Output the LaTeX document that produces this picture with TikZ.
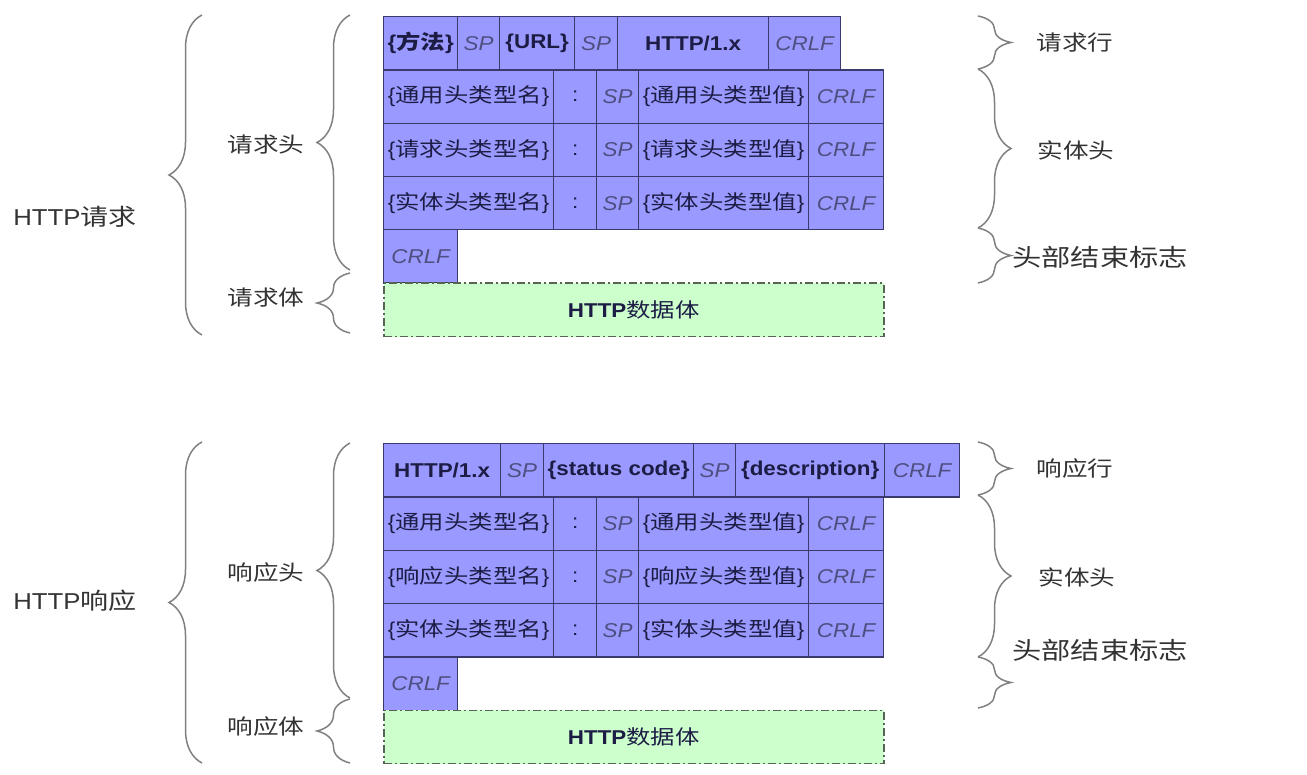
\documentclass[tikz,border=0pt]{standalone}
\usepackage{fontspec}
\setmainfont{Liberation Sans}[FakeStretch=1.12]
\newfontfamily\cjk{Noto Sans CJK SC}[FakeStretch=1.22]
\usetikzlibrary{decorations.pathreplacing, calc}

\definecolor{cellblue}{HTML}{9999FF}
\definecolor{celledge}{HTML}{3A3A6E}
\definecolor{bodygreen}{HTML}{CCFFCC}
\definecolor{bodyedge}{HTML}{556455}
\definecolor{keytext}{HTML}{1C1C44}
\definecolor{sptext}{HTML}{4E4E80}
\definecolor{notetext}{HTML}{333333}
\definecolor{bracegray}{HTML}{808080}

\newcommand\spx[1]{{\color{sptext}\itshape #1}}
\newcommand\keyx[1]{{\bfseries #1}}

\tikzset{
  cell/.style={draw=celledge, fill=cellblue, line width=1.3pt, anchor=north west,
    inner sep=0pt, minimum height=53.3pt, text=keytext,
    font=\fontsize{20}{24}\selectfont},
  databox/.style={draw=bodyedge, fill=bodygreen, line width=1.5pt,
    dash pattern=on 8pt off 3pt on 2pt off 3pt},
  note/.style={text=notetext, font=\fontsize{21}{25}\selectfont\cjk},
  bignote/.style={note, font=\fontsize{23}{27}\selectfont\cjk},
  widenote/.style={note, font=\fontsize{24}{28}\selectfont\cjk},
  curly/.style={draw=bracegray, line width=1.5pt, decorate,
    decoration={brace, amplitude=33pt}}
}

\begin{document}
\begin{tikzpicture}[x=1pt, y=-1pt]
\useasboundingbox (0,0) rectangle (1307,775);

% request message
\foreach \xa/\xb/\txt [count=\i] in {383/457/{\keyx{\{{\cjk 方法}\}}}, 457/499/{\spx{SP}},
    499/574/{\keyx{\{URL\}}}, 574/617/{\spx{SP}}, 617/768/{\keyx{HTTP/1.x}}, 768/840/{\spx{CRLF}}}
  \node[cell, minimum width={(\xb-\xa)*1pt}] (rql\i) at (\xa,16) {\txt};
\foreach \kind [count=\r] in {通用,请求,实体} {
  \foreach \xa/\xb/\txt [count=\i] in {383/553/{\{{\cjk \kind 头类型名}\}}, 553/596/{:},
      596/638/{\spx{SP}}, 638/808/{\{{\cjk \kind 头类型值}\}}, 808/883/{\spx{CRLF}}}
    \node[cell, minimum width={(\xb-\xa)*1pt}] (rqh\r-\i) at (\xa,{16+53.3*\r}) {\txt};
}
\node[cell, minimum width=74pt] (rqend) at (383,{16+53.3*4}) {\spx{CRLF}};
\node[cell, databox, minimum width=500pt] (rqbody) at (383,{16+53.3*5}) {\keyx{HTTP}{\cjk 数据体}};

% response message
\foreach \xa/\xb/\txt [count=\i] in {383/500/{\keyx{HTTP/1.x}}, 500/543/{\spx{SP}},
    543/693/{\keyx{\{status code\}}}, 693/735/{\spx{SP}}, 735/884/{\keyx{\{description\}}}, 884/959/{\spx{CRLF}}}
  \node[cell, minimum width={(\xb-\xa)*1pt}] (rsl\i) at (\xa,443) {\txt};
\foreach \kind [count=\r] in {通用,响应,实体} {
  \foreach \xa/\xb/\txt [count=\i] in {383/553/{\{{\cjk \kind 头类型名}\}}, 553/596/{:},
      596/638/{\spx{SP}}, 638/808/{\{{\cjk \kind 头类型值}\}}, 808/883/{\spx{CRLF}}}
    \node[cell, minimum width={(\xb-\xa)*1pt}] (rsh\r-\i) at (\xa,{443+53.3*\r}) {\txt};
}
\node[cell, minimum width=74pt] (rsend) at (383,{443+53.3*4}) {\spx{CRLF}};
\node[cell, databox, minimum width=500pt] (rsbody) at (383,{443+53.3*5}) {\keyx{HTTP}{\cjk 数据体}};

% labels
\node[bignote] (rq) at (75,217) {{\rmfamily HTTP}请求};
\node[note] (rqhead) at (266,145) {请求头};
\node[note] (rqdata) at (266,298) {请求体};
\node[note] (rqline) at (1075,43) {请求行};
\node[note] (rqent) at (1076,150) {实体头};
\node[widenote] (rqstop) at (1100,257) {头部结束标志};

\node[bignote] (rs) at (75,601) {{\rmfamily HTTP}响应};
\node[note] (rshead) at (266,573) {响应头};
\node[note] (rsdata) at (266,727) {响应体};
\node[note] (rsline) at (1075,469) {响应行};
\node[note] (rsent) at (1077,577) {实体头};
\node[widenote] (rsstop) at (1100,650) {头部结束标志};

% braces
\draw[curly] (202,335) -- (202,15);
\draw[curly] (350,270) -- (350,15);
\draw[curly] (350,333) -- (350,273);
\draw[curly] (978,16) -- (978,69);
\draw[curly] (978,69) -- (978,228);
\draw[curly] (978,228) -- (978,283);

\draw[curly] (202,763) -- (202,442);
\draw[curly] (350,698) -- (350,443);
\draw[curly] (350,763) -- (350,699);
\draw[curly] (978,442) -- (978,495);
\draw[curly] (978,495) -- (978,657);
\draw[curly] (978,657) -- (978,708);
\end{tikzpicture}
\end{document}
